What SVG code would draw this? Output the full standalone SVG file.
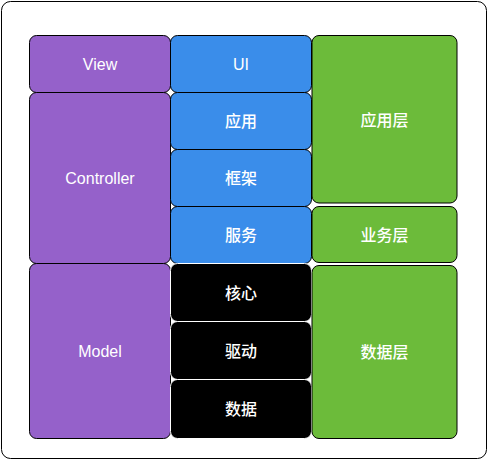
<svg xmlns="http://www.w3.org/2000/svg" width="490" height="460" viewBox="0 0 490 460">
<style>
.b{stroke:#000;stroke-width:1}
.p{fill:#9561CA}
.u{fill:#3A8DEA}
.g{fill:#6CBB3A}
.k{fill:#000;stroke:#fff;stroke-width:1}
text{font-family:"Liberation Sans","Noto Sans CJK SC",sans-serif;font-size:16px;fill:#fff;text-anchor:middle;dominant-baseline:central}
.c{font-weight:500}
</style>
<rect x="1.5" y="1.5" width="485" height="457" rx="9" fill="#fff" stroke="#000" stroke-width="1"/>
<g id="view"><rect class="b p" x="29.5" y="35.5" width="141" height="57" rx="7"/><text x="100" y="64">View</text></g>
<g id="controller"><rect class="b p" x="29.5" y="92.5" width="141" height="171" rx="7"/><text x="100" y="178">Controller</text></g>
<g id="model"><rect class="b p" x="29.5" y="263.5" width="141" height="175" rx="7"/><text x="100" y="351">Model</text></g>
<g id="ui"><rect class="b u" x="170.5" y="35.5" width="141" height="57" rx="7"/><text x="241" y="64">UI</text></g>
<g id="app"><rect class="b u" x="170.5" y="92.5" width="141" height="57" rx="7"/><text class="c" x="241" y="121">应用</text></g>
<g id="framework"><rect class="b u" x="170.5" y="149.5" width="141" height="57" rx="7"/><text class="c" x="241" y="178">框架</text></g>
<g id="service"><rect class="b u" x="170.5" y="206.5" width="141" height="57" rx="7"/><text class="c" x="241" y="235">服务</text></g>
<g id="core"><rect class="k" x="170.5" y="263.5" width="141" height="58" rx="7"/><text class="c" x="241" y="293">核心</text></g>
<g id="driver"><rect class="k" x="170.5" y="321.5" width="141" height="58" rx="7"/><text class="c" x="241" y="351">驱动</text></g>
<g id="data"><rect class="k" x="170.5" y="379.5" width="141" height="59" rx="7"/><text class="c" x="241" y="409">数据</text></g>
<g id="applayer"><rect class="b g" x="312" y="35.5" width="145" height="167.5" rx="7"/><text class="c" x="384.5" y="120">应用层</text></g>
<g id="bizlayer"><rect class="b g" x="312" y="206.5" width="145" height="56" rx="7"/><text class="c" x="384.5" y="235">业务层</text></g>
<g id="datalayer"><rect class="b g" x="312" y="265.5" width="145" height="173" rx="7"/><text class="c" x="384.5" y="352">数据层</text></g>
<g id="connectors"></g>
</svg>
